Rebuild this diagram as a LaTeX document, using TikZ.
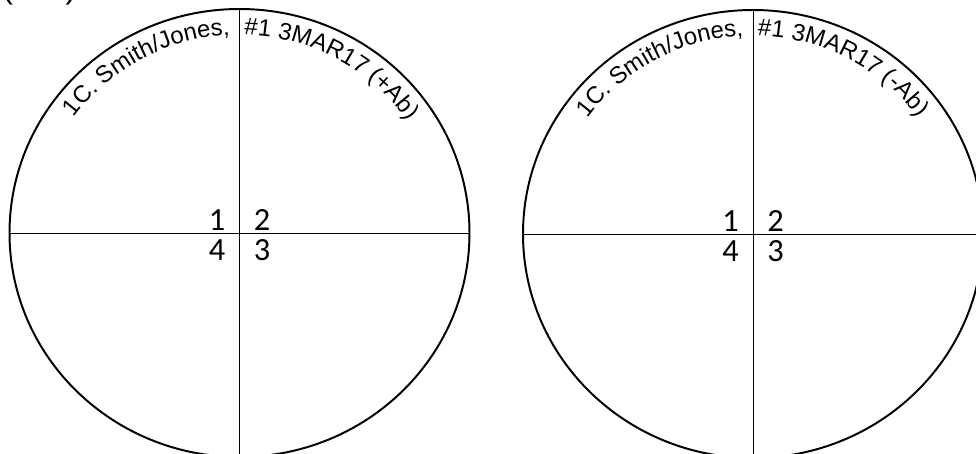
\documentclass[tikz,border=0pt]{standalone}
\usepackage{fontspec}
\setmainfont{Liberation Sans}
\newfontfamily\numfont{Carlito}
\usetikzlibrary{calc,decorations.text}
\tikzset{
  rim/.style={line width=1.4pt},
  cross/.style={line width=0.7pt},
  digit/.style={font=\numfont\fontsize{23}{23}\selectfont,inner sep=0pt,anchor=base},
}
\newcommand{\labfont}{\fontsize{17}{17}\selectfont}
% #1 name, #2 centre, #3 sign of the antibody
\newcommand{\plate}[3]{%
  \coordinate (#1) at (#2);
  \draw[rim] (#1) ellipse [x radius=230, y radius=224];
  \path (#1) +(-230,0) coordinate (#1w) +(230,0) coordinate (#1e)
             +(0,224) coordinate (#1n) +(0,-224) coordinate (#1s);
  \draw[cross] (#1w) -- (#1e);
  \draw[cross] (#1n) -- (#1s);
  \path[decorate,decoration={text along path,text align=right,text={|\labfont|1C. Smith/Jones,}}]
    ($(#1)+(160:204 and 198)$) arc[start angle=160,end angle=92.7,x radius=204,y radius=198];
  \path[decorate,decoration={text along path,text={|\labfont|{\#}1 3MAR17 ({#3}Ab)}}]
    ($(#1)+(88.7:204 and 198)$) arc[start angle=88.7,end angle=15,x radius=204,y radius=198];
  \node[digit] (#1q1) at ($(#1)+(-22.5,2)$) {1};
  \node[digit] (#1q2) at ($(#1)+(22.5,2)$) {2};
  \node[digit] (#1q4) at ($(#1)+(-22.5,-28)$) {4};
  \node[digit] (#1q3) at ($(#1)+(22.5,-28)$) {3};
}

\begin{document}
\begin{tikzpicture}[x=0.025cm,y=0.025cm]
\useasboundingbox (0,0) rectangle (976,454);
\node[font=\fontsize{22.7}{22.7}\selectfont,inner sep=0pt,anchor=base west] (cap) at (2,455) {(\hspace{1.65em})};
\plate{pos}{239.5,221}{+}
\plate{neg}{753,220}{-}
\end{tikzpicture}
\end{document}
